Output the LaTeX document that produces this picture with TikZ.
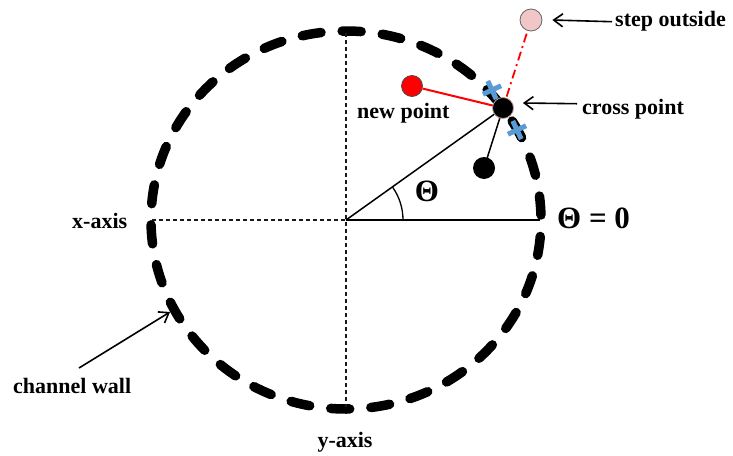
\documentclass[tikz,border=0pt]{standalone}
\usepackage{fontspec}
\setmainfont{Liberation Serif}
\usetikzlibrary{arrows.meta,calc}
\definecolor{crossblue}{HTML}{5B9BD5}
\definecolor{pinkfill}{HTML}{F2C6C6}
\begin{document}
\begin{tikzpicture}[x=1pt,y=1pt,
  lbl/.style={font=\fontsize{22}{26}\selectfont\bfseries, inner sep=0pt},
  biglbl/.style={font=\fontsize{31}{34}\selectfont\bfseries, inner sep=0pt},
  axisline/.style={line width=1.5pt, dash pattern=on 4pt off 3pt, black!90},
  pointer/.style={line width=1.6pt, -{Straight Barb[length=9pt,width=13pt,line width=1.6pt]}},
  dot/.style={circle, inner sep=0pt, minimum size=#1},
  bluecross/.style={crossblue, line width=5pt}
]
\useasboundingbox (0,0) rectangle (733,-455);
\coordinate (C) at (346,-220);
% channel wall
\draw[line width=9.5pt, line cap=round, dash pattern=on 19pt off 21.21pt, dash phase=35.2pt]
  (C) ellipse [x radius=195, y radius=189];
% axes
\coordinate (Ctop) at (346,-33);
\coordinate (Cbot) at (346,-407);
\coordinate (Cleft) at (152,-220);
\coordinate (Cright) at (540,-220);
\draw[axisline] (Ctop) -- (Cbot);
\draw[axisline] (Cleft) -- (Cright);
\draw[line width=1.5pt] (C) -- (Cright);
% points
\coordinate (X) at (503,-108);
\coordinate (B2) at (484,-168);
\coordinate (N) at (412,-86);
\coordinate (S) at (531,-20);
\draw[line width=1.5pt] (C) -- (X);
\draw[line width=1.5pt] (X) -- (B2);
\draw[line width=1.3pt] ($(C)+(57,0)$) arc[start angle=0,end angle=35.5,radius=57];
% blue crosses
\begin{scope}[shift={(492,-90)}, rotate=25]
  \draw[bluecross] (-10,0) -- (10,0);
  \draw[bluecross] (0,-10) -- (0,10);
\end{scope}
\begin{scope}[shift={(517,-130)}, rotate=25]
  \draw[bluecross] (-10,0) -- (10,0);
  \draw[bluecross] (0,-10) -- (0,10);
\end{scope}
\node[dot=22pt, fill=black] (b2) at (B2) {};
\node[dot=21pt, fill=red, draw=black!70, line width=0.8pt] (np) at (N) {};
\node[dot=22pt, fill=pinkfill, draw=black!60, line width=0.8pt] (so) at (S) {};
\draw[red, line width=2pt] (np) -- (X);
\draw[red, line width=1.8pt, dash pattern=on 9pt off 4pt on 2pt off 4pt] ($(X)!12pt!(S)$) -- (so);
\node[dot=21pt, fill=black, draw=pinkfill!80!black, line width=0.8pt] (cp) at (X) {};
% labels
\node[lbl, anchor=base west] (tso) at (615,-27) {step outside};
\node[lbl, anchor=base west] (tcp) at (582,-114) {cross point};
\node[lbl, anchor=base west] (tnp) at (357,-118) {new point};
\node[lbl, anchor=base west] (tx) at (72,-228) {x-axis};
\node[lbl, anchor=base] (ty) at (345,-447) {y-axis};
\node[lbl, anchor=base west] (tcw) at (13,-393) {channel wall};
\node[biglbl, anchor=base] (th) at (427,-201) {Θ};
\node[biglbl, anchor=base west] (th0) at (557,-228) {Θ = 0};
% pointers
\coordinate (cwtip) at (170,-312);
\draw[pointer] ($(tso.west)+(-3,0)$) -- ($(so.east)+(10,0)$);
\draw[pointer] ($(tcp.west)+(-5,5)$) -- ($(cp.east)+(9,5)$);
\draw[pointer] (79,-368) -- (cwtip);
\end{tikzpicture}
\end{document}
